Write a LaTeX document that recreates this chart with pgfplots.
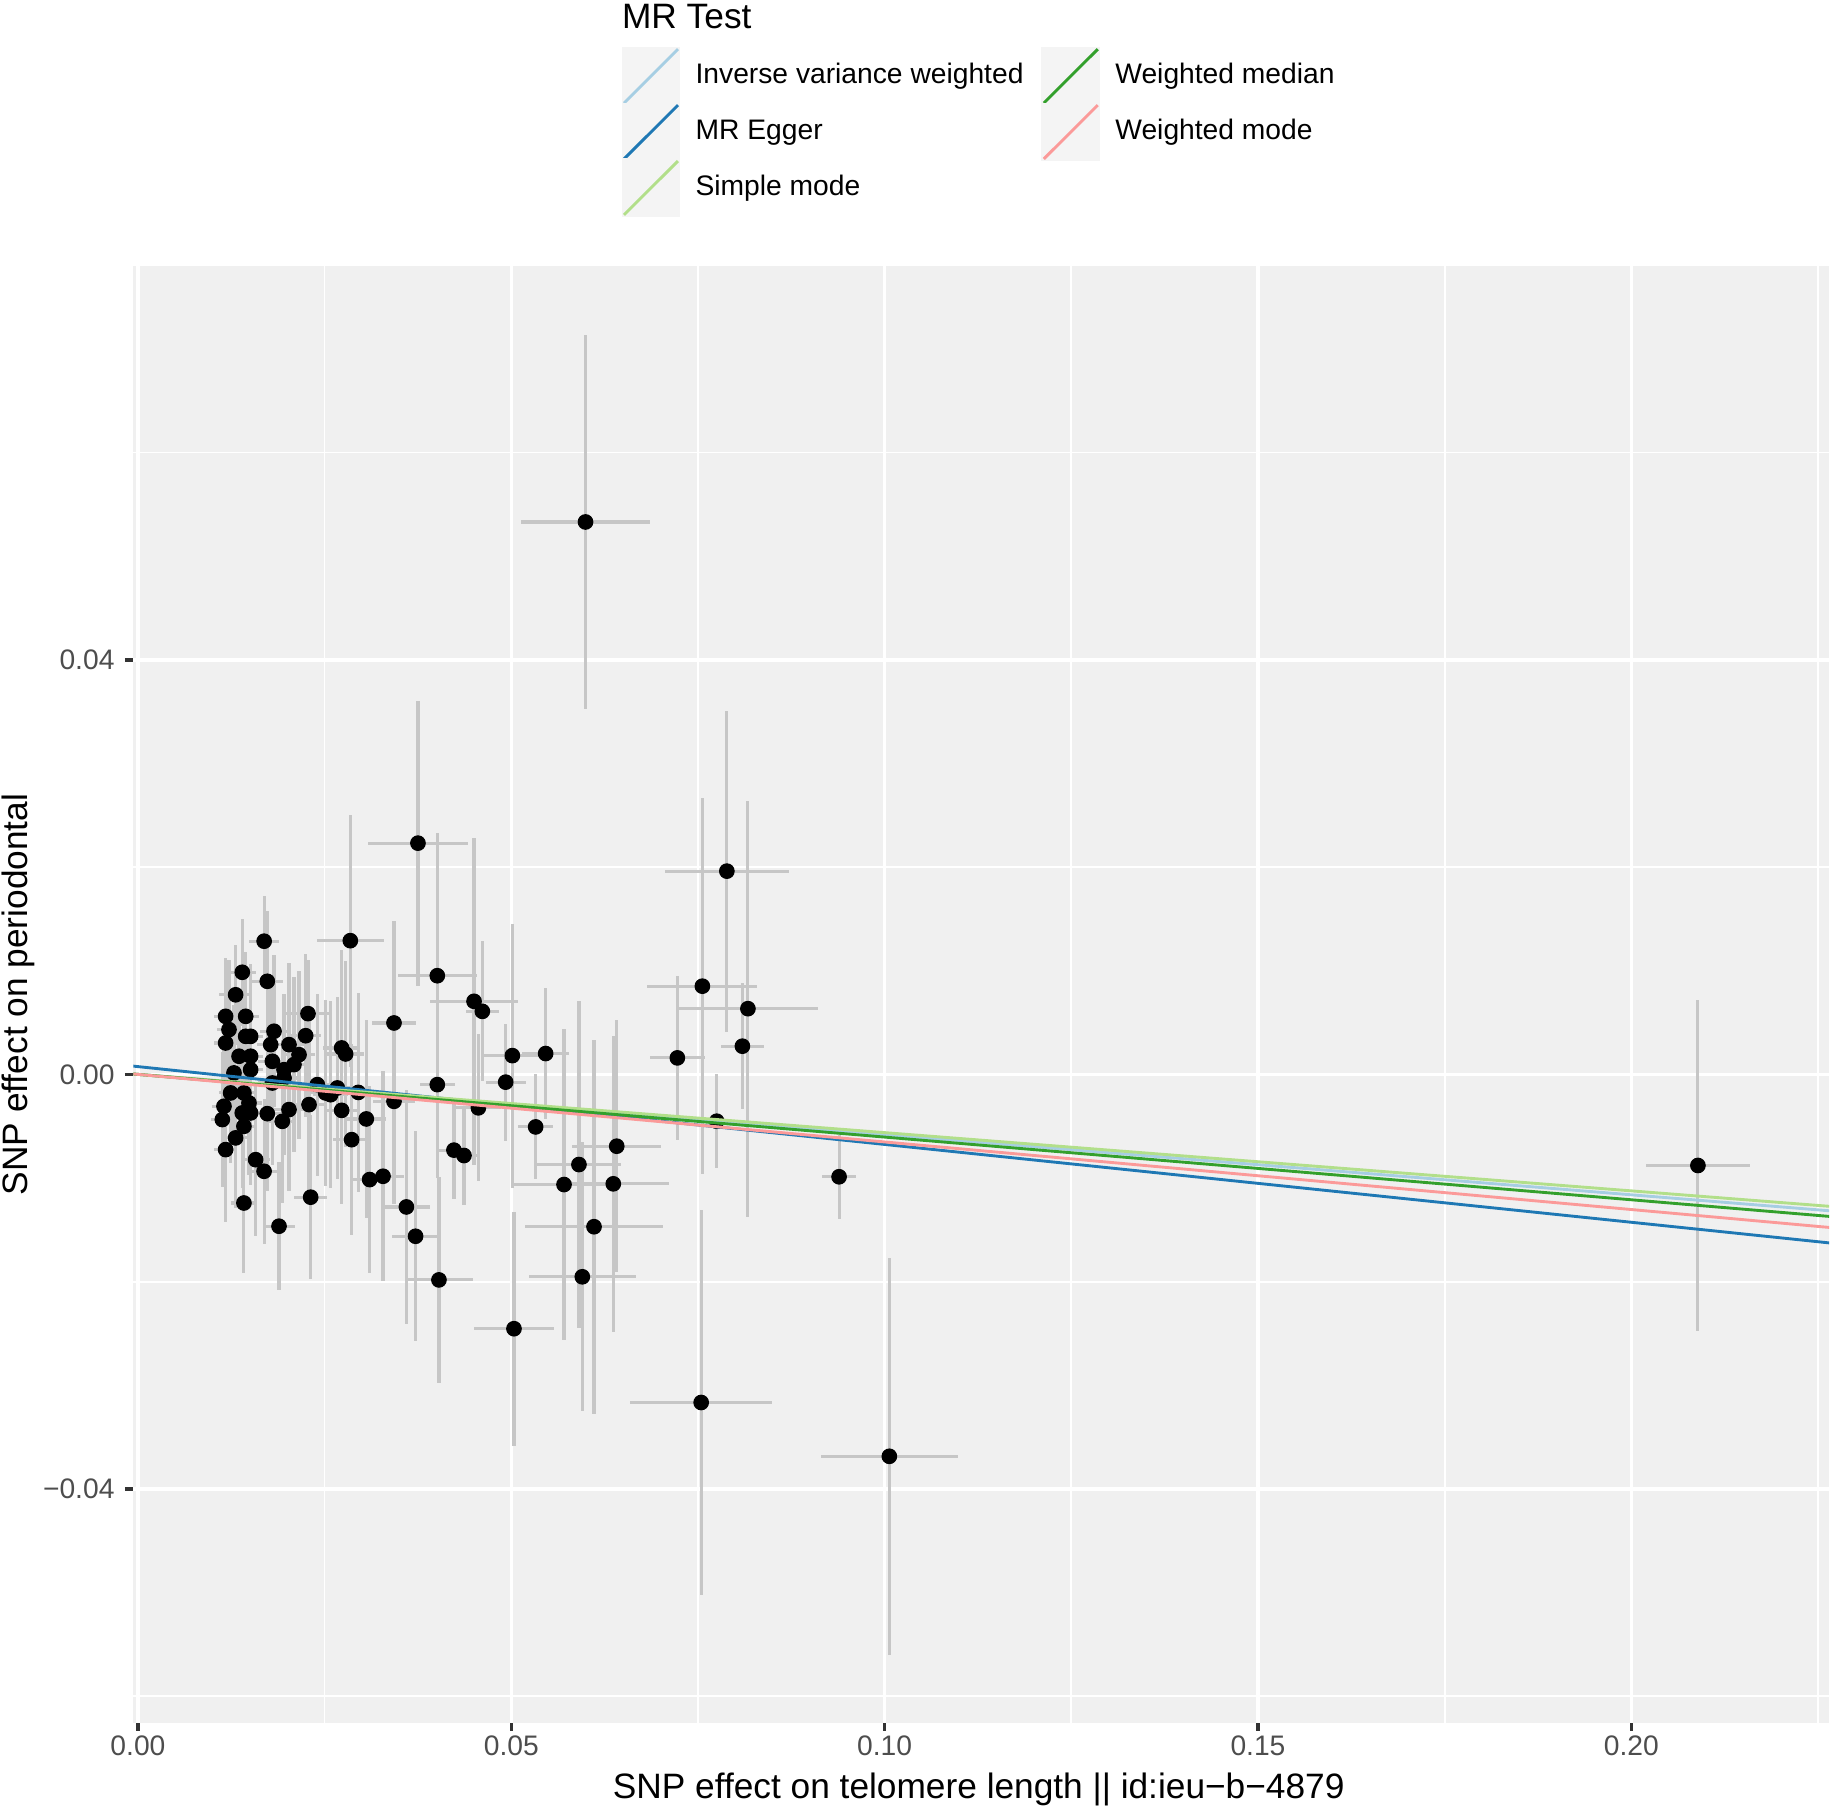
\documentclass[border=0pt]{standalone}
\usepackage{fontspec}
\setmainfont{Liberation Sans}
\usepackage{pgfplots}
\usepackage{pgfplotstable}
\pgfplotsset{compat=1.18}
\definecolor{panelgrey}{HTML}{F0F0F0}
\definecolor{legkey}{HTML}{F4F4F4}
\definecolor{errgrey}{HTML}{C6C6C6}
\definecolor{tickcol}{HTML}{333333}
\definecolor{ticklab}{HTML}{4D4D4D}
\definecolor{ivw}{HTML}{A6CEE3}
\definecolor{egger}{HTML}{1F78B4}
\definecolor{simple}{HTML}{B2DF8A}
\definecolor{wmedian}{HTML}{33A02C}
\definecolor{wmode}{HTML}{FB9A99}

\pgfplotstableread{
x y sx sy
0.01690 0.01285 0.00200 0.00434
0.01397 0.00985 0.00188 0.00518
0.01732 0.00898 0.00213 0.00676
0.01308 0.00768 0.00224 0.00485
0.02277 0.00586 0.00290 0.00518
0.02844 0.01290 0.00446 0.01217
0.01174 0.00560 0.00156 0.00563
0.01443 0.00560 0.00172 0.00620
0.01219 0.00432 0.00156 0.00676
0.01822 0.00416 0.00188 0.00732
0.02246 0.00373 0.00203 0.00789
0.01174 0.00303 0.00156 0.00620
0.01443 0.00367 0.00172 0.00676
0.01509 0.00367 0.00172 0.00699
0.01778 0.00287 0.00188 0.00654
0.02023 0.00287 0.00203 0.00789
0.02157 0.00190 0.00219 0.00811
0.01354 0.00175 0.00156 0.00620
0.01509 0.00175 0.00172 0.00744
0.01800 0.00126 0.00188 0.00676
0.02089 0.00094 0.00203 0.00845
0.01956 0.00045 0.00188 0.00732
0.01286 0.00014 0.00156 0.00654
0.01509 0.00045 0.00172 0.00699
0.01800 -0.00083 0.00188 0.00789
0.01956 -0.00035 0.00188 0.00744
0.02402 -0.00099 0.00219 0.00879
0.02513 -0.00179 0.00235 0.00901
0.01241 -0.00179 0.00156 0.00676
0.01419 -0.00179 0.00172 0.00732
0.01152 -0.00308 0.00156 0.00620
0.01487 -0.00276 0.00172 0.00699
0.02291 -0.00292 0.00219 0.00879
0.02023 -0.00340 0.00203 0.00789
0.01130 -0.00436 0.00156 0.00654
0.01397 -0.00372 0.00172 0.00721
0.01509 -0.00372 0.00172 0.00699
0.01732 -0.00379 0.00188 0.00744
0.01933 -0.00453 0.00188 0.00789
0.01419 -0.00501 0.00172 0.00710
0.01308 -0.00613 0.00156 0.00676
0.01174 -0.00726 0.00156 0.00699
0.01576 -0.00823 0.00188 0.00732
0.01689 -0.00935 0.00188 0.00699
0.01419 -0.01241 0.00172 0.00676
0.02313 -0.01185 0.00219 0.00789
0.01889 -0.01465 0.00219 0.00620
0.04009 0.00952 0.00532 0.01375
0.03429 0.00496 0.00290 0.00980
0.02728 0.00255 0.00250 0.00946
0.02781 0.00197 0.00250 0.00901
0.04009 -0.00099 0.00235 0.00901
0.02581 -0.00196 0.00235 0.00901
0.02670 -0.00131 0.00235 0.00879
0.02951 -0.00174 0.00250 0.00958
0.03429 -0.00260 0.00282 0.00992
0.02728 -0.00347 0.00235 0.00901
0.03058 -0.00430 0.00266 0.00958
0.02862 -0.00630 0.00250 0.00924
0.03103 -0.01015 0.00266 0.00901
0.03282 -0.00983 0.00282 0.01014
0.03595 -0.01279 0.00313 0.01127
0.03718 -0.01562 0.00313 0.01014
0.03750 0.02231 0.00664 0.01375
0.05994 0.05330 0.00869 0.01808
0.04501 0.00705 0.00595 0.01577
0.04612 0.00608 0.00219 0.00676
0.05014 0.00181 0.00391 0.01273
0.05460 0.00201 0.00313 0.00631
0.07224 0.00159 0.00368 0.00789
0.04925 -0.00075 0.00266 0.00563
0.04559 -0.00323 0.00297 0.00710
0.05326 -0.00507 0.00235 0.00507
0.04232 -0.00731 0.00203 0.00473
0.04366 -0.00783 0.00203 0.00473
0.06412 -0.00693 0.00595 0.01217
0.05906 -0.00870 0.00563 0.01577
0.05706 -0.01063 0.00673 0.01499
0.06366 -0.01056 0.00751 0.01431
0.06108 -0.01470 0.00923 0.01803
0.05951 -0.01953 0.00720 0.01296
0.05036 -0.02454 0.00532 0.01127
0.04031 -0.01983 0.00454 0.00992
0.07559 0.00851 0.00736 0.01814
0.08169 0.00634 0.00939 0.02006
0.08095 0.00272 0.00290 0.00608
0.07751 -0.00452 0.00188 0.00451
0.09390 -0.00988 0.00227 0.00406
0.07887 0.01961 0.00829 0.01549
0.07543 -0.03166 0.00955 0.01859
0.10063 -0.03685 0.00915 0.01915
0.20892 -0.00879 0.00696 0.01600
}\pts

\begin{document}
\begin{tikzpicture}
\path[use as bounding box] (-51.0pt,-32.0pt) rectangle (649.6pt,659.1pt);
\begin{axis}[
  at={(0pt,0pt)}, anchor=south west,
  scale only axis,
  width=648.9pt, height=557.2pt,
  xmin=-0.000626, xmax=0.22650,
  ymin=-0.06254, ymax=0.07797,
  clip mode=individual,
  axis background/.style={fill=panelgrey},
  axis line style={draw=none},
  xtick={0,0.05,0.1,0.15,0.2},
  xticklabels={0.00,0.05,0.10,0.15,0.20},
  ytick={-0.04,0,0.04},
  yticklabels={−0.04,0.00,0.04},
  minor xtick={0.025,0.075,0.125,0.175,0.225},
  minor ytick={-0.06,-0.02,0.02,0.06},
  scaled x ticks=false, scaled y ticks=false,
  grid=both,
  major grid style={draw=white, line width=1.31pt},
  minor grid style={draw=white, line width=0.65pt},
  tick pos=left,
  tick align=outside,
  major tick length=3.2pt,
  minor tick length=0pt,
  tick style={draw=tickcol, line width=1.31pt},
  xticklabel style={font=\fontsize{10.8}{12}\selectfont, text=ticklab, inner sep=0pt, anchor=north, yshift=-1.5pt},
  yticklabel style={font=\fontsize{10.8}{12}\selectfont, text=ticklab, inner sep=0pt, anchor=east, xshift=-3.8pt},
  xlabel={SNP effect on telomere length || id:ieu−b−4879},
  ylabel={SNP effect on periodontal},
  xlabel style={font=\fontsize{13.5}{15}\selectfont, at={(axis description cs:0.4985,0)}, anchor=base, inner sep=0pt, yshift=-29.0pt},
  ylabel style={font=\fontsize{13.5}{15}\selectfont, at={(axis description cs:-0.0621,0.5)}, anchor=base, inner sep=0pt},
  legend columns=2,
  legend style={
    at={(0.2879,1.1508)}, anchor=north west,
    draw=none, fill=none, inner sep=0pt, outer sep=0pt,
    font=\fontsize{10.8}{13}\selectfont,
    row sep=-1.15pt, column sep=0pt,
    cells={anchor=west},
    nodes={inner sep=0pt, outer sep=0pt, text height=7.9pt, text depth=2.3pt},
    /tikz/every odd column/.append style={column sep=5.8pt},
    /tikz/every even column/.append style={column sep=6.8pt},
  },
  legend image code/.code={
    \fill[legkey] (0pt,-10.72pt) rectangle (21.45pt,10.72pt);
    \draw[#1] (0.4pt,-10.3pt) -- (21.05pt,10.3pt);
  },
]
% error bars
\addplot[forget plot, only marks, mark=none,
  error bars/.cd, x dir=both, x explicit, y dir=both, y explicit, error mark=none,
  error bar style={draw=errgrey, line width=1.2pt}]
  table[x=x, y=y, x error=sx, y error=sy] {\pts};
% points
\addplot[forget plot, only marks, mark=*, mark size=2.8pt, mark options={fill=black, draw=none}]
  table[x=x, y=y] {\pts};
% MR lines
\addplot[forget plot, ivw, line width=1.1pt] coordinates {(-0.000626,0.0000364) (0.2265,-0.013160)};
\addplot[forget plot, egger, line width=1.1pt] coordinates {(-0.000626,0.000797) (0.2265,-0.016260)};
\addplot[forget plot, simple, line width=1.1pt] coordinates {(-0.000626,0.0000352) (0.2265,-0.012729)};
\addplot[forget plot, wmedian, line width=1.1pt] coordinates {(-0.000626,0.0000379) (0.2265,-0.013703)};
\addplot[forget plot, wmode, line width=1.1pt] coordinates {(-0.000626,0.0000408) (0.2265,-0.014768)};
% legend entries (row-wise order to reproduce column-wise ggplot legend)
\addlegendimage{ivw, line width=1.1pt}
\addlegendentry{Inverse variance weighted}
\addlegendimage{wmedian, line width=1.1pt}
\addlegendentry{Weighted median}
\addlegendimage{egger, line width=1.1pt}
\addlegendentry{MR Egger}
\addlegendimage{wmode, line width=1.1pt}
\addlegendentry{Weighted mode}
\addlegendimage{simple, line width=1.1pt}
\addlegendentry{Simple mode}
\node[anchor=base west, inner sep=0pt, font=\fontsize{13.5}{15}\selectfont] at (axis description cs:0.2879,1.1635) {MR Test};
\end{axis}
\end{tikzpicture}
\end{document}
